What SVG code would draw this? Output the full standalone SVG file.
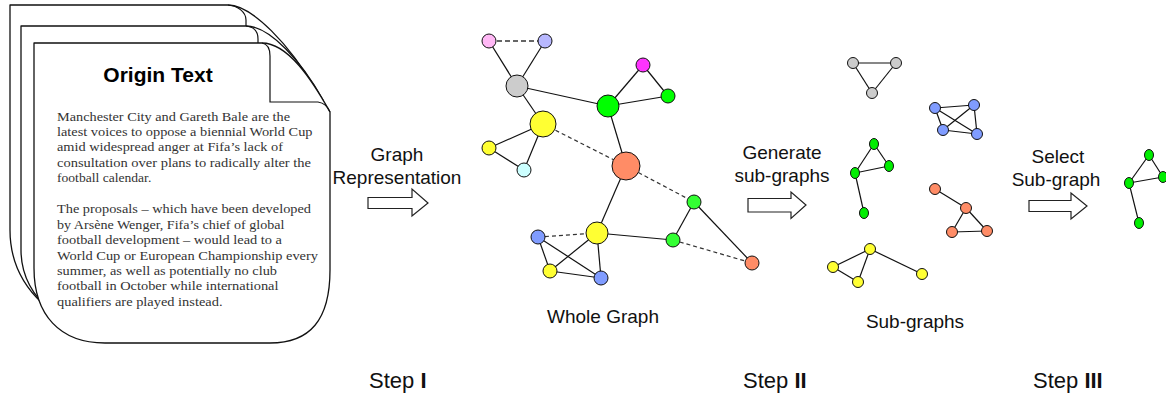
<svg xmlns="http://www.w3.org/2000/svg" width="1166" height="394" viewBox="0 0 1166 394">
<style>
.page{fill:#fff;stroke:#111;stroke-width:1.3;stroke-linejoin:round}
.flap{fill:none;stroke:#111;stroke-width:1.2}
.body{font-family:"Liberation Serif",serif;font-size:13.5px;fill:#333}
.lbl{font-family:"Liberation Sans",Arial,sans-serif;font-size:19px;fill:#111;text-anchor:middle}
.step{font-family:"Liberation Sans",Arial,sans-serif;font-size:22px;fill:#111}
.e{stroke:#111;stroke-width:1.2;fill:none}
.ed{stroke:#333;stroke-width:1.2;stroke-dasharray:4,3;fill:none}
.n{stroke:#111;stroke-width:1}
.arrow{fill:#fff;stroke:#222;stroke-width:1.2}
</style>
<g id="document">
  <path class="page" d="M10,5 H228 C252,5 290,45 316,90 V300 L120,338 C60,330 10,290 10,230 Z"/>
  <path class="flap" d="M228,5 C238,6 246,12 246,20 V26"/>
  <path class="page" d="M21,26 H246 C270,26 302,62 323,100 V300 L120,340 C70,335 21,300 21,250 Z"/>
  <path class="flap" d="M246,26 C255,27 258,33 258,39 V43"/>
  <path class="page" d="M34,43 H262 C288,43 312,80 330,112 V270 C330,320 310,343 270,343 H105 C60,343 34,315 34,268 Z"/>
  <path class="flap" d="M262,43 C268,44 270,50 270,56 V102 H318 C324,103 328,107 330,112"/>
  <text x="158" y="82" font-family="Liberation Sans,Arial,sans-serif" font-size="21" font-weight="bold" text-anchor="middle" fill="#000">Origin Text</text>
  <text class="body" x="57" y="120.5" textLength="233" lengthAdjust="spacingAndGlyphs">Manchester City and Gareth Bale are the</text>
  <text class="body" x="57" y="135.9" textLength="255.5" lengthAdjust="spacingAndGlyphs">latest voices to oppose a biennial World Cup</text>
  <text class="body" x="57" y="151.3" textLength="226" lengthAdjust="spacingAndGlyphs">amid widespread anger at Fifa’s lack of</text>
  <text class="body" x="57" y="166.7" textLength="254" lengthAdjust="spacingAndGlyphs">consultation over plans to radically alter the</text>
  <text class="body" x="57" y="182" textLength="94.3" lengthAdjust="spacingAndGlyphs">football calendar.</text>
  <text class="body" x="57" y="213.3" textLength="254" lengthAdjust="spacingAndGlyphs">The proposals – which have been developed</text>
  <text class="body" x="57" y="228.7" textLength="227.5" lengthAdjust="spacingAndGlyphs">by Arsène Wenger, Fifa’s chief of global</text>
  <text class="body" x="57" y="244.1" textLength="225" lengthAdjust="spacingAndGlyphs">football development – would lead to a</text>
  <text class="body" x="57" y="259.5" textLength="261" lengthAdjust="spacingAndGlyphs">World Cup or European Championship every</text>
  <text class="body" x="57" y="274.9" textLength="220" lengthAdjust="spacingAndGlyphs">summer, as well as potentially no club</text>
  <text class="body" x="57" y="290.3" textLength="221.5" lengthAdjust="spacingAndGlyphs">football in October while international</text>
  <text class="body" x="57" y="305.7" textLength="165.5" lengthAdjust="spacingAndGlyphs">qualifiers are played instead.</text>
</g>
<g id="step-arrows">
  <polygon class="arrow" points="368,197.5 412,197.5 412,189 428,203 412,216 412,208.5 368,208.5"/>
  <polygon class="arrow" points="748,198.5 791,198.5 791,192 806,205 791,218.5 791,212 748,212"/>
  <polygon class="arrow" points="1029,200.5 1071,200.5 1071,193 1087,206 1071,219 1071,211.5 1029,211.5"/>
</g>
<g id="labels">
  <text class="lbl" x="397" y="161">Graph</text>
  <text class="lbl" x="397" y="184">Representation</text>
  <text class="lbl" x="782" y="159">Generate</text>
  <text class="lbl" x="782" y="182">sub-graphs</text>
  <text class="lbl" x="1058" y="163">Select</text>
  <text class="lbl" x="1056" y="186">Sub-graph</text>
  <text class="lbl" x="603" y="323">Whole Graph</text>
  <text class="lbl" x="915" y="328">Sub-graphs</text>
  <text class="step" x="369" y="388">Step <tspan font-weight="bold">I</tspan></text>
  <text class="step" x="743" y="388">Step <tspan font-weight="bold">II</tspan></text>
  <text class="step" x="1033" y="388">Step <tspan font-weight="bold">III</tspan></text>
</g>
<g id="connectors">
  <!-- whole graph -->
  <line x1="489" y1="41" x2="545" y2="41" stroke="#666" stroke-width="2" stroke-dasharray="5,3"/>
  <line class="e" x1="489" y1="41" x2="517" y2="86"/>
  <line class="e" x1="545" y1="41" x2="517" y2="86"/>
  <line class="e" x1="517" y1="86" x2="543" y2="124"/>
  <line class="e" x1="517" y1="86" x2="608" y2="106"/>
  <line class="e" x1="543" y1="124" x2="489" y2="148" stroke-width="2"/>
  <line class="e" x1="543" y1="124" x2="524" y2="170"/>
  <line class="e" x1="489" y1="148" x2="524" y2="170"/>
  <line class="ed" x1="543" y1="124" x2="626" y2="166"/>
  <line class="e" x1="608" y1="106" x2="643" y2="65"/>
  <line class="e" x1="608" y1="106" x2="668" y2="96" stroke-width="2"/>
  <line class="e" x1="643" y1="65" x2="668" y2="96"/>
  <line class="e" x1="608" y1="106" x2="626" y2="166"/>
  <line class="e" x1="626" y1="166" x2="597" y2="233"/>
  <line class="ed" x1="626" y1="166" x2="694" y2="202"/>
  <line class="e" x1="597" y1="233" x2="673" y2="240"/>
  <line class="e" x1="673" y1="240" x2="694" y2="202"/>
  <line class="e" x1="694" y1="202" x2="752" y2="263"/>
  <line class="ed" x1="673" y1="240" x2="752" y2="263"/>
  <line class="ed" x1="538" y1="237" x2="597" y2="233"/>
  <line class="e" x1="538" y1="237" x2="550" y2="271"/>
  <line class="e" x1="538" y1="237" x2="601" y2="278"/>
  <line class="e" x1="550" y1="271" x2="597" y2="233"/>
  <line class="e" x1="550" y1="271" x2="601" y2="278"/>
  <line class="e" x1="597" y1="233" x2="601" y2="278"/>
  <!-- sub-graphs -->
  <line class="e" x1="853" y1="63" x2="896" y2="63"/>
  <line class="e" x1="853" y1="63" x2="872" y2="93"/>
  <line class="e" x1="896" y1="63" x2="872" y2="93"/>
  <line class="e" x1="935" y1="108" x2="974" y2="105"/>
  <line class="e" x1="935" y1="108" x2="943" y2="130"/>
  <line class="e" x1="974" y1="105" x2="977" y2="134"/>
  <line class="e" x1="943" y1="130" x2="977" y2="134"/>
  <line class="e" x1="935" y1="108" x2="977" y2="134"/>
  <line class="e" x1="974" y1="105" x2="943" y2="130"/>
  <line class="e" x1="874" y1="144" x2="889" y2="166"/>
  <line class="e" x1="874" y1="144" x2="855" y2="173"/>
  <line class="e" x1="855" y1="173" x2="889" y2="166"/>
  <line class="e" x1="855" y1="173" x2="864" y2="213"/>
  <line class="e" x1="935" y1="189" x2="966" y2="208"/>
  <line class="e" x1="966" y1="208" x2="952" y2="232"/>
  <line class="e" x1="966" y1="208" x2="987" y2="231"/>
  <line class="e" x1="952" y1="232" x2="987" y2="231"/>
  <line class="e" x1="870" y1="249" x2="833" y2="267"/>
  <line class="e" x1="870" y1="249" x2="858" y2="282"/>
  <line class="e" x1="833" y1="267" x2="858" y2="282"/>
  <line class="e" x1="870" y1="249" x2="922" y2="274"/>
  <!-- selected -->
  <line class="e" x1="1149" y1="155" x2="1163" y2="177"/>
  <line class="e" x1="1149" y1="155" x2="1129" y2="183"/>
  <line class="e" x1="1129" y1="183" x2="1163" y2="177"/>
  <line class="e" x1="1129" y1="183" x2="1139" y2="223"/>
</g>
<g id="whole-graph-nodes">
  <circle class="n" cx="489" cy="41" r="7" fill="#ffb8f5"/>
  <circle class="n" cx="545" cy="41" r="7" fill="#b8b8ff"/>
  <circle class="n" cx="517" cy="86" r="11" fill="#cccccc"/>
  <circle class="n" cx="543" cy="124" r="13" fill="#ffff33"/>
  <circle class="n" cx="489" cy="148" r="7" fill="#ffff33"/>
  <circle class="n" cx="524" cy="170" r="7" fill="#ccffff"/>
  <circle class="n" cx="608" cy="106" r="11" fill="#00ff00"/>
  <circle class="n" cx="643" cy="65" r="7" fill="#ff33ff"/>
  <circle class="n" cx="668" cy="96" r="7" fill="#00ff00"/>
  <circle class="n" cx="626" cy="166" r="14" fill="#ff8c66"/>
  <circle class="n" cx="694" cy="202" r="7" fill="#33ff33"/>
  <circle class="n" cx="673" cy="240" r="7" fill="#33ff33"/>
  <circle class="n" cx="752" cy="263" r="7" fill="#ff8c66"/>
  <circle class="n" cx="597" cy="233" r="11" fill="#ffff33"/>
  <circle class="n" cx="538" cy="237" r="7" fill="#809cff"/>
  <circle class="n" cx="550" cy="271" r="7" fill="#ffff33"/>
  <circle class="n" cx="601" cy="278" r="7" fill="#809cff"/>
</g>
<g id="subgraph-gray">
  <circle class="n" cx="853" cy="63" r="5.5" fill="#cccccc"/>
  <circle class="n" cx="896" cy="63" r="5.5" fill="#cccccc"/>
  <circle class="n" cx="872" cy="93" r="5.5" fill="#cccccc"/>
</g>
<g id="subgraph-blue">
  <circle class="n" cx="935" cy="108" r="5.5" fill="#809cff"/>
  <circle class="n" cx="974" cy="105" r="5.5" fill="#809cff"/>
  <circle class="n" cx="943" cy="130" r="5.5" fill="#809cff"/>
  <circle class="n" cx="977" cy="134" r="5.5" fill="#809cff"/>
</g>
<g id="subgraph-green">
  <ellipse class="n" cx="874" cy="144" rx="4.5" ry="5.5" fill="#00ee00"/>
  <ellipse class="n" cx="889" cy="166" rx="4.5" ry="5.5" fill="#00ee00"/>
  <ellipse class="n" cx="855" cy="173" rx="4.5" ry="5.5" fill="#00ee00"/>
  <ellipse class="n" cx="864" cy="213" rx="4.5" ry="5.5" fill="#00ee00"/>
</g>
<g id="subgraph-orange">
  <circle class="n" cx="935" cy="189" r="5.5" fill="#ff8c66"/>
  <circle class="n" cx="966" cy="208" r="5.5" fill="#ff8c66"/>
  <circle class="n" cx="952" cy="232" r="5.5" fill="#ff8c66"/>
  <circle class="n" cx="987" cy="231" r="5.5" fill="#ff8c66"/>
</g>
<g id="subgraph-yellow">
  <circle class="n" cx="870" cy="249" r="5.5" fill="#ffff33"/>
  <circle class="n" cx="833" cy="267" r="5.5" fill="#ffff33"/>
  <circle class="n" cx="858" cy="282" r="5.5" fill="#ffff33"/>
  <circle class="n" cx="922" cy="274" r="5.5" fill="#ffff33"/>
</g>
<g id="selected-subgraph">
  <ellipse class="n" cx="1149" cy="155" rx="4.5" ry="5.5" fill="#00ee00"/>
  <ellipse class="n" cx="1163" cy="177" rx="4.5" ry="5.5" fill="#00ee00"/>
  <ellipse class="n" cx="1129" cy="183" rx="4.5" ry="5.5" fill="#00ee00"/>
  <ellipse class="n" cx="1139" cy="223" rx="4.5" ry="5.5" fill="#00ee00"/>
</g>
</svg>
